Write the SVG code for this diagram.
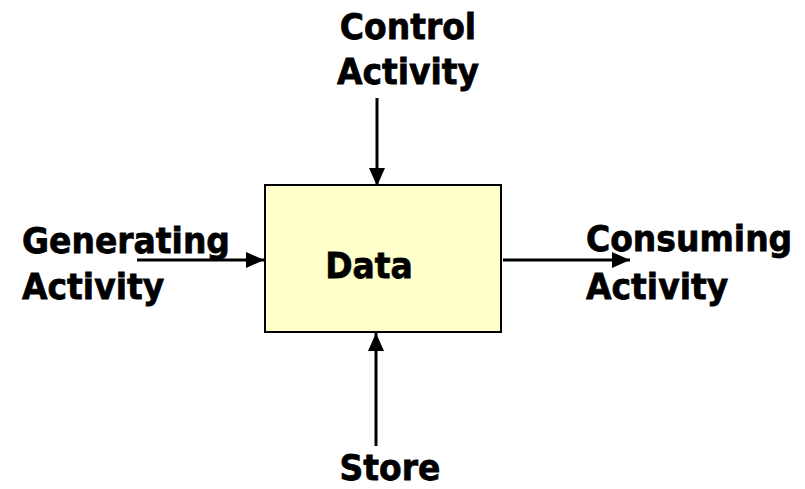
<svg xmlns="http://www.w3.org/2000/svg" width="805" height="489" viewBox="0 0 805 489">
  <style>
    .lbl { font-family: Tahoma, "DejaVu Sans", Verdana, sans-serif; font-weight: bold; font-size: 33px; fill: #000; stroke: #000; stroke-width: 0.7; }
    .mid { text-anchor: middle; }
    .flow { stroke: #000; stroke-width: 3; fill: none; }
  </style>
  <defs>
    <marker id="head" viewBox="0 0 18 16" refX="18" refY="8" markerWidth="18" markerHeight="16" markerUnits="userSpaceOnUse" orient="auto">
      <path d="M0,0 L18,8 L0,16 Z" fill="#000"/>
    </marker>
  </defs>
  <rect width="805" height="489" fill="#fff"/>

  <g id="data">
    <rect x="265" y="185" width="236" height="147" fill="#FFFFCC" stroke="#000" stroke-width="2"/>
    <text class="lbl mid" transform="translate(369 278) scale(1 1.1)">Data</text>
  </g>

  <g id="control-activity">
    <text class="lbl mid" transform="translate(408 39) scale(1 1.1)">Control</text>
    <text class="lbl mid" transform="translate(408 84) scale(1 1.1)">Activity</text>
  </g>

  <g id="generating-activity">
    <text class="lbl" transform="translate(22 253) scale(1 1.1)">Generating</text>
    <text class="lbl" transform="translate(22 299) scale(1 1.1)">Activity</text>
  </g>

  <g id="consuming-activity">
    <text class="lbl" transform="translate(586 251) scale(1 1.1)">Consuming</text>
    <text class="lbl" transform="translate(586 299) scale(1 1.1)">Activity</text>
  </g>

  <g id="store">
    <text class="lbl mid" transform="translate(390 480) scale(1 1.1)">Store</text>
  </g>

  <g id="connectors">
    <line class="flow" x1="377" y1="98" x2="377" y2="186" marker-end="url(#head)"/>
    <line class="flow" x1="137" y1="260" x2="264" y2="260" marker-end="url(#head)"/>
    <line class="flow" x1="503" y1="260" x2="630" y2="260" marker-end="url(#head)"/>
    <line class="flow" x1="376" y1="446" x2="376" y2="333" marker-end="url(#head)"/>
  </g>
</svg>
